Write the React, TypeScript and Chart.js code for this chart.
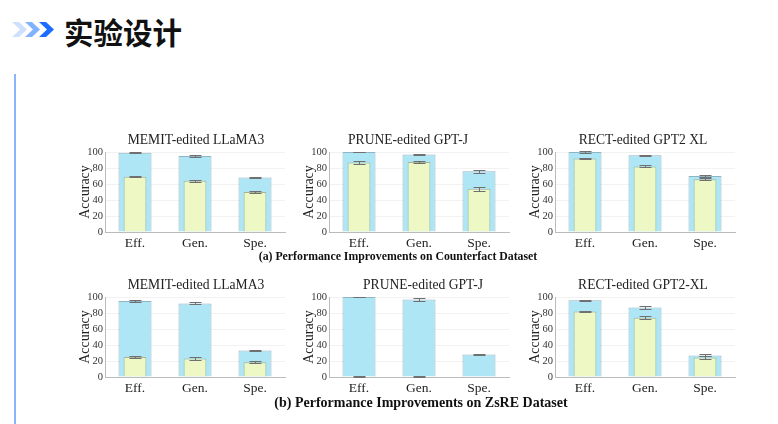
import React, { useEffect, useRef } from "react";
import { Chart, registerables } from "chart.js";

Chart.register(...registerables);

const categories = ["Eff.", "Gen.", "Spe."];
const yTickStep = 20;

// (a) Counterfact
const cfMemitPost = [99, 95, 68];
const cfMemitPostErr = [0.8, 1.0, 0.8];
const cfMemitPre = [69, 64, 50];
const cfMemitPreErr = [0.8, 1.6, 0.8];

const cfPrunePost = [100, 97, 76];
const cfPrunePostErr = [0.5, 1.0, 2.0];
const cfPrunePre = [87, 87.5, 54];
const cfPrunePreErr = [2.0, 1.5, 2.5];

const cfRectPost = [100, 96, 70];
const cfRectPostErr = [0.8, 0.5, 1.0];
const cfRectPre = [92, 82, 66];
const cfRectPreErr = [0.8, 1.2, 1.5];

// (b) ZsRE
const zsMemitPost = [95, 92, 33];
const zsMemitPostErr = [1.5, 1.2, 0.8];
const zsMemitPre = [25, 23, 18.5];
const zsMemitPreErr = [1.5, 1.5, 1.0];

const zsPrunePost = [100, 97, 28];
const zsPrunePostErr = [0.3, 1.5, 1.0];
const zsPrunePre = [0.6, 0.6, 0];
const zsPrunePreErr = [0.3, 0.3, 0];

const zsRectPost = [96, 87, 27];
const zsRectPostErr = [0.8, 1.5, 1.2];
const zsRectPre = [82, 74, 24.5];
const zsRectPreErr = [0.5, 2.0, 1.5];

const SERIF = "'Liberation Serif', 'DejaVu Serif', serif";

const errorBarPlugin = {
  id: "errorBars",
  afterDatasetsDraw(chart: any) {
    const ctx = chart.ctx;
    const y = chart.scales.y;
    chart.data.datasets.forEach((ds: any, i: number) => {
      const errs = ds.errors;
      if (!errs) return;
      const meta = chart.getDatasetMeta(i);
      meta.data.forEach((bar: any, j: number) => {
        const v = ds.data[j];
        const e = errs[j];
        if (!e) return;
        const x = Math.round(bar.x) + 0.5;
        const yt = Math.round(y.getPixelForValue(v + e)) + 0.5;
        const yb = Math.round(y.getPixelForValue(v - e)) + 0.5;
        ctx.save();
        ctx.strokeStyle = "#707070";
        ctx.lineWidth = 1;
        ctx.beginPath();
        ctx.moveTo(x, yt);
        ctx.lineTo(x, yb);
        ctx.moveTo(x - 6, yt);
        ctx.lineTo(x + 6, yt);
        ctx.moveTo(x - 6, yb);
        ctx.lineTo(x + 6, yb);
        ctx.stroke();
        ctx.restore();
      });
    });
  },
};

type PanelProps = {
  title: string;
  post: number[];
  postErr: number[];
  pre: number[];
  preErr: number[];
  left: number;
  top: number;
  titleX: number;
};

function Panel({ title, post, postErr, pre, preErr, left, top, titleX }: PanelProps) {
  const ref = useRef<HTMLCanvasElement | null>(null);
  useEffect(() => {
    if (!ref.current) return;
    const chart = new Chart(ref.current, {
      type: "bar",
      data: {
        labels: categories,
        datasets: [
          {
            label: "pre",
            data: pre,
            errors: preErr,
            backgroundColor: "#eef8c4",
            borderColor: "#a8b496",
            borderWidth: 1,
            barPercentage: 0.38,
            categoryPercentage: 1,
            grouped: false,
            order: 0,
          } as any,
          {
            label: "post",
            data: post,
            errors: postErr,
            backgroundColor: "#aee6f6",
            borderColor: "#8fb4c4",
            borderWidth: 1,
            barPercentage: 0.55,
            categoryPercentage: 1,
            grouped: false,
            order: 1,
          } as any,
        ],
      },
      options: {
        animation: false,
        responsive: false,
        maintainAspectRatio: false,
        layout: { padding: { left: 0, right: 10, top: 24, bottom: 0 } },
        plugins: {
          legend: { display: false },
          tooltip: { enabled: false },
          title: { display: false },
        },
        scales: {
          x: {
            grid: { display: false, drawTicks: false },
            border: { color: "#bbb" },
            ticks: { color: "#222", font: { family: SERIF, size: 13.5 }, padding: 3 },
            afterFit: (s: any) => {
              s.height = 22;
            },
          },
          y: {
            min: 0,
            max: 100,
            ticks: {
              stepSize: yTickStep,
              autoSkip: false,
              color: "#333",
              font: { family: SERIF, size: 10.5 },
              padding: 2,
            },
            grid: { color: "#f2f2f2", drawTicks: false },
            border: { color: "#bbb" },
            title: {
              display: true,
              text: "Accuracy",
              color: "#222",
              font: { family: SERIF, size: 14 },
              padding: { top: 7, bottom: 0 },
            },
            afterFit: (s: any) => {
              s.width = 35;
            },
          },
        },
      },
      plugins: [errorBarPlugin],
    } as any);
    return () => chart.destroy();
  }, []);
  return (
    <>
      <canvas
        ref={ref}
        width={225}
        height={126}
        style={{ position: "absolute", left, top, width: 225, height: 126 }}
      />
      <div
        style={{
          position: "absolute",
          left: titleX - 100,
          width: 200,
          top: top + 3,
          textAlign: "center",
          fontFamily: SERIF,
          fontSize: 13.6,
          lineHeight: "18px",
          color: "#222",
          whiteSpace: "nowrap",
        }}
      >
        {title}
      </div>
    </>
  );
}

export default function App() {
  const colLefts = [70, 294, 520];
  const rowTops = [128, 273];
  return (
    <div
      style={{
        position: "absolute",
        left: 0,
        top: 0,
        width: 778,
        height: 424,
        background: "#fff",
        overflow: "hidden",
      }}
    >
      <svg
        width={50}
        height={20}
        style={{ position: "absolute", left: 10, top: 20 }}
      >
        <polygon points="2,2 9,2 17,9.5 9,17 2,17 10,9.5" fill="#cfe0ff" />
        <polygon points="15,2 22,2 30,9.5 22,17 15,17 23,9.5" fill="#80b2ff" />
        <polygon points="29,2 36,2 44,9.5 36,17 29,17 37,9.5" fill="#1b6cff" />
      </svg>
      <div
        style={{
          position: "absolute",
          left: 64,
          top: 12,
          fontFamily: "'Noto Sans CJK SC', sans-serif",
          fontSize: 29.5,
          fontWeight: 600,
          color: "#111",
          lineHeight: "38px",
        }}
      >
        实验设计
      </div>
      <div
        style={{
          position: "absolute",
          left: 14,
          top: 74,
          width: 2,
          height: 360,
          background: "#8ab4fb",
        }}
      />
      <Panel title="MEMIT-edited LLaMA3" post={cfMemitPost} postErr={cfMemitPostErr} pre={cfMemitPre} preErr={cfMemitPreErr} left={colLefts[0]} top={rowTops[0]} titleX={196} />
      <Panel title="PRUNE-edited GPT-J" post={cfPrunePost} postErr={cfPrunePostErr} pre={cfPrunePre} preErr={cfPrunePreErr} left={colLefts[1]} top={rowTops[0]} titleX={408} />
      <Panel title="RECT-edited GPT2 XL" post={cfRectPost} postErr={cfRectPostErr} pre={cfRectPre} preErr={cfRectPreErr} left={colLefts[2]} top={rowTops[0]} titleX={643} />
      <Panel title="MEMIT-edited LLaMA3" post={zsMemitPost} postErr={zsMemitPostErr} pre={zsMemitPre} preErr={zsMemitPreErr} left={colLefts[0]} top={rowTops[1]} titleX={196} />
      <Panel title="PRUNE-edited GPT-J" post={zsPrunePost} postErr={zsPrunePostErr} pre={zsPrunePre} preErr={zsPrunePreErr} left={colLefts[1]} top={rowTops[1]} titleX={423} />
      <Panel title="RECT-edited GPT2-XL" post={zsRectPost} postErr={zsRectPostErr} pre={zsRectPre} preErr={zsRectPreErr} left={colLefts[2]} top={rowTops[1]} titleX={643} />
      <div
        style={{
          position: "absolute",
          left: 0,
          width: 796,
          top: 249,
          textAlign: "center",
          fontFamily: SERIF,
          fontWeight: "bold",
          fontSize: 11.8,
          color: "#111",
        }}
      >
        (a) Performance Improvements on Counterfact Dataset
      </div>
      <div
        style={{
          position: "absolute",
          left: 0,
          width: 842,
          top: 395,
          textAlign: "center",
          fontFamily: SERIF,
          fontWeight: "bold",
          fontSize: 14,
          color: "#111",
        }}
      >
        (b) Performance Improvements on ZsRE Dataset
      </div>
    </div>
  );
}
